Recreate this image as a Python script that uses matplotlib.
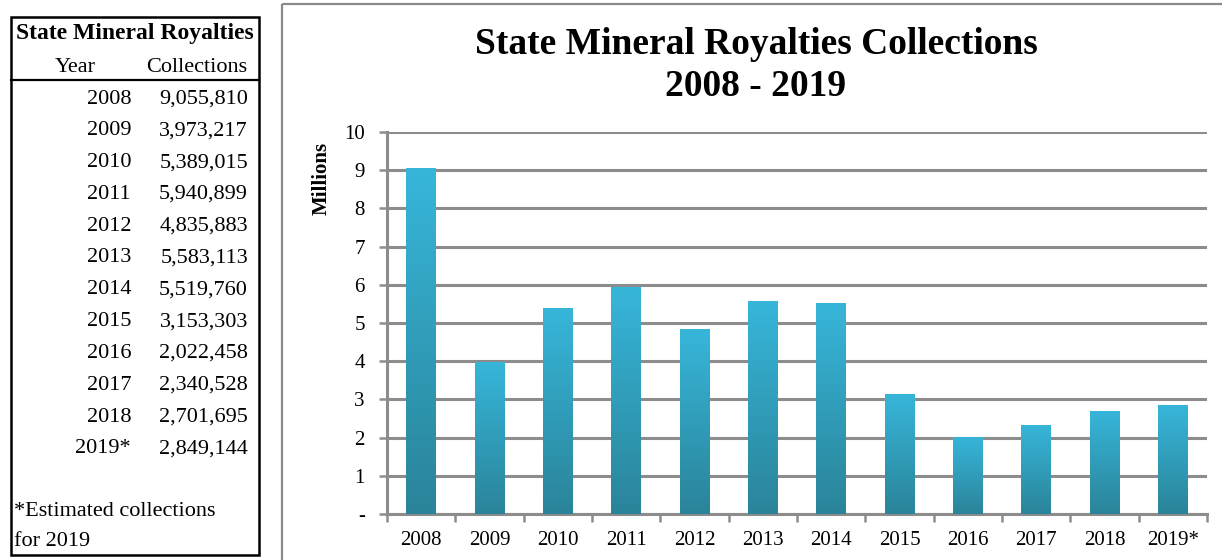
import numpy as np
import matplotlib
matplotlib.use("Agg")
import matplotlib.pyplot as plt
from matplotlib.patches import Rectangle
from matplotlib.colors import LinearSegmentedColormap
from matplotlib.ticker import FixedLocator, FuncFormatter

plt.rcParams['font.family'] = ['Liberation Serif', 'DejaVu Serif']

years = ["2008", "2009", "2010", "2011", "2012", "2013", "2014", "2015",
         "2016", "2017", "2018", "2019*"]
collections = [9055810, 3973217, 5389015, 5940899, 4835883, 5583113, 5519760,
               3153303, 2022458, 2340528, 2701695, 2849144]
footnote = ["*Estimated collections", "for 2019"]

millions = np.array(collections) / 1e6
grid_col = "#8c8c8c"

fig = plt.figure(figsize=(12.22, 5.6), dpi=100)

# overlay in pixel coords for the table and the chart frame
ov = fig.add_axes([0, 0, 1, 1])
ov.set_xlim(0, 1222)
ov.set_ylim(560, 0)
ov.axis("off")

ov.add_patch(Rectangle((282, 4), 1000, 600, fill=False, ec="#8a8a8a", lw=1.6))
ov.add_patch(Rectangle((11, 17), 248, 538, fill=False, ec="black", lw=1.8))
ov.plot([11, 259], [80, 80], color="black", lw=1.6)

ov.text(135, 34, "State Mineral Royalties", ha="center", va="center",
        fontsize=17, fontweight="bold")
ov.text(75, 67, "Year", ha="center", va="center", fontsize=16)
ov.text(247, 67, "Collections", ha="right", va="center", fontsize=16)
for i, (yr, val) in enumerate(zip(years, collections)):
    y = 99 + i * 31.8
    ov.text(131, y, yr, ha="right", va="center", fontsize=16)
    ov.text(248, y, f"{val:,}", ha="right", va="center", fontsize=16)
for i, line in enumerate(footnote):
    ov.text(14, 511 + i * 31, line, ha="left", va="center", fontsize=16)

ov.text(756, 45, "State Mineral Royalties Collections", ha="center",
        va="center", fontsize=27, fontweight="bold")
ov.text(756, 86, "2008 - 2019", ha="center", va="center", fontsize=27,
        fontweight="bold")
ov.text(322, 178, "Millions", ha="center", va="center", rotation=90,
        fontsize=15, fontweight="bold")

# chart
ax = fig.add_axes([387 / 1222, 1 - 514 / 560, (1207 - 387) / 1222,
                   (514 - 132) / 560])
x = np.arange(len(years))
bars = ax.bar(x, millions, width=0.43, color="none", zorder=3)

cmap = LinearSegmentedColormap.from_list("bar", ["#2a8499", "#37b6da"])
grad = np.linspace(0, 1, 256).reshape(-1, 1)
for b in bars:
    x0, w, h = b.get_x(), b.get_width(), b.get_height()
    im = ax.imshow(grad, cmap=cmap, origin="lower", aspect="auto",
                   extent=[x0, x0 + w, 0, h], zorder=3)
    im.set_clip_path(b)

ax.set_xlim(-0.5, len(years) - 0.5)
ax.set_ylim(0, 10)
ax.set_xticks(x)
ax.set_xticklabels(years, fontsize=15)
ax.xaxis.set_minor_locator(FixedLocator(np.arange(-0.5, len(years), 1)))
ax.tick_params(axis="x", which="major", length=0, pad=12)
ax.tick_params(axis="x", which="minor", length=6, width=1.8, color=grid_col,
               direction="out")
ax.set_yticks(range(0, 11))
ax.yaxis.set_major_formatter(FuncFormatter(lambda v, p: "-" if v == 0 else f"{v:.0f}"))
ax.tick_params(axis="y", length=6, width=1.8, color=grid_col, pad=10,
               labelsize=15)
ax.grid(axis="y", color=grid_col, lw=2.2, zorder=1)
ax.set_axisbelow(True)
for s in ["top", "right"]:
    ax.spines[s].set_visible(False)
for s in ["left", "bottom"]:
    ax.spines[s].set_color(grid_col)
    ax.spines[s].set_linewidth(2.2)
ax.set_xlim(-0.5, len(years) - 0.5)

fig.savefig("out.png", dpi=100)
